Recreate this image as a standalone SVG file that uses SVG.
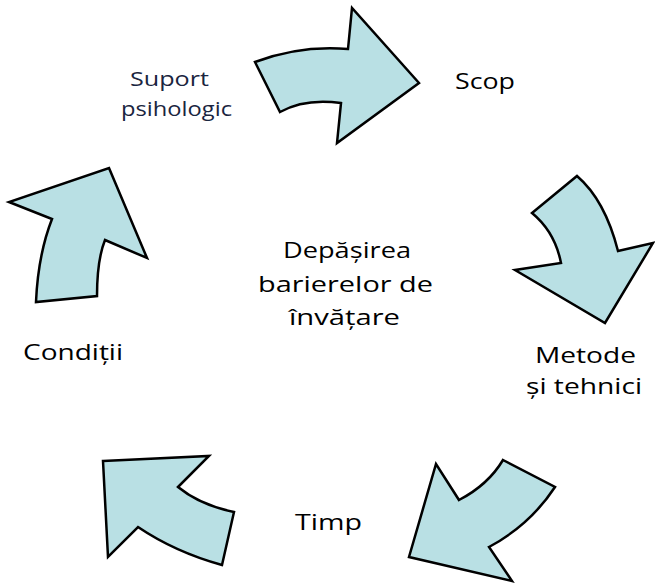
<svg xmlns="http://www.w3.org/2000/svg" width="655" height="583" viewBox="0 0 655 583">
<style>
.arr{fill:#b9e0e4;stroke:#000;stroke-width:2.5;stroke-linejoin:miter}
.t{font-family:"Open Sans","Liberation Sans",sans-serif;font-size:22px;fill:#000;text-anchor:start}
.s{fill:#1a2540;font-size:20px}
</style>
<rect width="655" height="583" fill="#fff"/>
<g id="connectors">
<path id="a1" class="arr" d="M255,62 Q300,45 348,49 L352,8 L419,83 L337,143 L341,103 Q305,98 280,112 Z"/>
<path id="a2" class="arr" d="M577,176 Q605,200 618,251 L653,243 L605,323 L515,270 L561,263 Q555,232 532,213 Z"/>
<path id="a3" class="arr" d="M503,460 L555,487 Q530,525 489,547 L512,581 L409,557 L436,464 L459,500 Q488,485 503,460 Z"/>
<path id="a4" class="arr" d="M103,461 L209,456 L178,487 Q200,505 234,512 L222,565 Q175,552 138,527 L108,557 Z"/>
<path id="a5" class="arr" d="M109,168 L147,258 L105,240 Q97,260 97,296 L36,302 Q38,255 52,219 L9,202 Z"/>
</g>
<g id="center">
<text class="t" x="283" y="258" textLength="128" lengthAdjust="spacingAndGlyphs">Depășirea</text>
<text class="t" x="258" y="292" textLength="175" lengthAdjust="spacingAndGlyphs">barierelor de</text>
<text class="t" x="289" y="325" textLength="111" lengthAdjust="spacingAndGlyphs">învățare</text>
</g>
<g id="suport">
<text class="t s" x="130" y="86" textLength="79" lengthAdjust="spacingAndGlyphs">Suport</text>
<text class="t s" x="121" y="116" textLength="111" lengthAdjust="spacingAndGlyphs">psihologic</text>
</g>
<g id="scop"><text class="t" x="455" y="89" textLength="60" lengthAdjust="spacingAndGlyphs">Scop</text></g>
<g id="metode">
<text class="t" x="535" y="363" textLength="101" lengthAdjust="spacingAndGlyphs">Metode</text>
<text class="t" x="526" y="394" textLength="116" lengthAdjust="spacingAndGlyphs">și tehnici</text>
</g>
<g id="timp"><text class="t" x="295" y="530" textLength="67" lengthAdjust="spacingAndGlyphs">Timp</text></g>
<g id="conditii"><text class="t" x="23" y="360" textLength="100" lengthAdjust="spacingAndGlyphs">Condiții</text></g>
</svg>
